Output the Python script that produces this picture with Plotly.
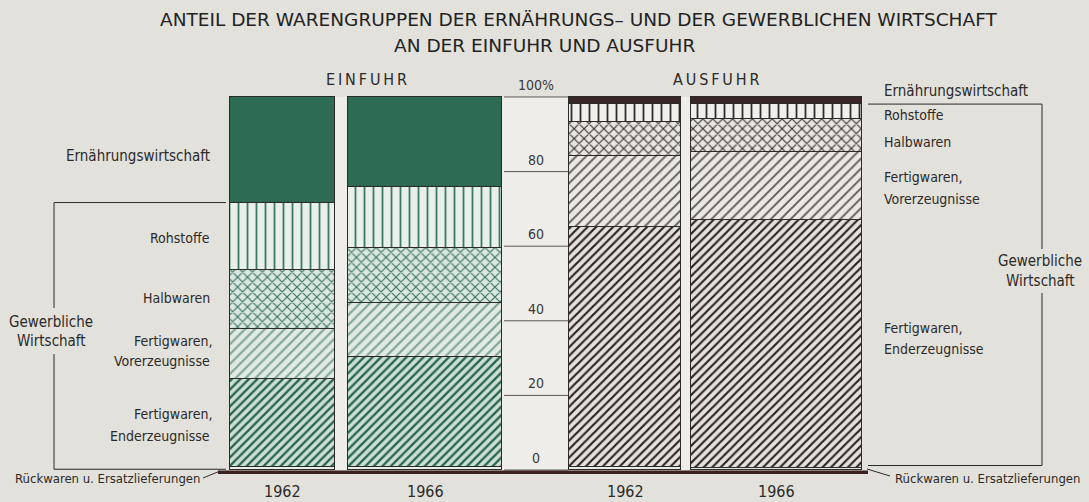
import plotly.graph_objects as go

# ---------------- data ----------------
groups = ["EINFUHR", "EINFUHR", "AUSFUHR", "AUSFUHR"]
years = ["1962", "1966", "1962", "1966"]
totals_bn_dm = [49.5, 72.7, 53.0, 80.6]          # bar widths proportional to totals
rueckwaren = [0.7, 0.7, 0.8, 0.6]
fertig_ender = [23.6, 29.5, 64.4, 66.4]
fertig_vor = [13.4, 14.5, 19.0, 18.3]
halbwaren = [15.9, 14.9, 9.2, 8.7]
rohstoffe = [18.1, 16.2, 4.8, 4.1]
ernaehrung = [28.3, 24.2, 1.8, 1.9]
tick_vals = [0, 20, 40, 60, 80, 100]
tick_text = ["0", "20", "40", "60", "80", "100%"]

# ---------------- layout helpers ----------------
W, H = 1089, 502
PX0, PX100 = 470, 97                 # pixel rows of 0 % and 100 %
k = (PX0 - PX100) / 100.0
y_lo, y_hi = -(H - PX0) / k, PX0 / k
def yp(py):
    return 1 - py / H

FONT = "DejaVu Sans Condensed, Liberation Sans Narrow, sans-serif"
TFONT = "DejaVu Sans, Liberation Sans, sans-serif"
INK = "#2b2a28"
BG = "#e3e1dc"

scale = 2.12
widths = [t * scale for t in totals_bn_dm]
lefts = [230, 230 + widths[0] + 13, 569, 569 + widths[2] + 10]
centers = [l + w / 2 for l, w in zip(lefts, widths)]

# styles: (shape, bg, fg, size, solidity) for EINFUHR / AUSFUHR
series = [
    ("Rückwaren u. Ersatzlieferungen", rueckwaren,
     ("", "#e9ede9", "#e9ede9", 6, 0.3), ("", "#ebe9e5", "#ebe9e5", 6, 0.3)),
    ("Fertigwaren, Enderzeugnisse", fertig_ender,
     ("/", "#cde0d6", "#2c6550", 6, 0.4), ("/", "#e4e1dd", "#2a2222", 6, 0.36)),
    ("Fertigwaren, Vorerzeugnisse", fertig_vor,
     ("/", "#e1eae4", "#7aa392", 7, 0.28), ("/", "#eae8e4", "#615957", 7, 0.27)),
    ("Halbwaren", halbwaren,
     ("x", "#dbe7e1", "#3a7360", 7, 0.3), ("x", "#e8e6e2", "#332b2b", 7, 0.28)),
    ("Rohstoffe", rohstoffe,
     ("|", "#e9efea", "#3d7a63", 9, 0.2), ("|", "#f0efec", "#332b2b", 9, 0.2)),
    ("Ernährungswirtschaft", ernaehrung,
     ("", "#2e6b55", "#2e6b55", 6, 0.3), ("", "#3a2626", "#3a2626", 6, 0.3)),
]

fig = go.Figure()
for name, vals, st_imp, st_exp in series:
    for grp, st in (("EINFUHR", st_imp), ("AUSFUHR", st_exp)):
        idx = [i for i, g in enumerate(groups) if g == grp]
        shape, bg, fg, size, sol = st
        fig.add_trace(go.Bar(
            x=[centers[i] for i in idx], y=[vals[i] for i in idx],
            width=[widths[i] for i in idx], name=f"{name} ({grp})",
            marker=dict(color=bg, line=dict(color=INK, width=1.3),
                        pattern=dict(shape=shape, bgcolor=bg, fgcolor=fg, fgopacity=1,
                                     size=size, solidity=sol)),
            hoverinfo="skip", showlegend=False,
        ))

shapes = []
# light backdrop behind the bars
shapes.append(dict(type="rect", xref="x", yref="y", x0=lefts[0], x1=lefts[3] + widths[3],
                   y0=0, y1=100, fillcolor="#eeedea", line=dict(width=0), layer="below"))
# centre scale lines
for v in tick_vals:
    shapes.append(dict(type="line", xref="x", yref="y", x0=lefts[1] + widths[1] + 2, x1=lefts[2] - 1,
                       y0=v, y1=v, line=dict(color="#5a5652", width=1)))
# baseline
shapes.append(dict(type="line", xref="x", yref="y", x0=218, x1=868, y0=-0.6, y1=-0.6,
                   line=dict(color="#3b2220", width=3.5)))
# left bracket (Gewerbliche Wirtschaft, Einfuhr)
top_l = 100 - ernaehrung[0]
shapes += [
    dict(type="line", xref="x", yref="y", x0=54, x1=226, y0=top_l, y1=top_l, line=dict(color=INK, width=1)),
    dict(type="line", xref="x", yref="y", x0=54, x1=226, y0=0.2, y1=0.2, line=dict(color=INK, width=1)),
    dict(type="line", xref="x", yref="paper", x0=54, x1=54, y0=yp(PX0 - top_l * k), y1=yp(308), line=dict(color=INK, width=1)),
    dict(type="line", xref="x", yref="paper", x0=54, x1=54, y0=yp(354), y1=yp(PX0 - 0.2 * k), line=dict(color=INK, width=1)),
    dict(type="line", xref="x", yref="paper", x0=203, x1=220, y0=yp(478), y1=yp(471), line=dict(color=INK, width=1)),
]
# right bracket (Gewerbliche Wirtschaft, Ausfuhr)
top_r = 100 - ernaehrung[3]
bot_r = rueckwaren[3] + 0.6
shapes += [
    dict(type="line", xref="x", yref="y", x0=868, x1=1042, y0=top_r, y1=top_r, line=dict(color=INK, width=1)),
    dict(type="line", xref="x", yref="y", x0=868, x1=1042, y0=bot_r, y1=bot_r, line=dict(color=INK, width=1)),
    dict(type="line", xref="x", yref="paper", x0=1042, x1=1042, y0=yp(PX0 - top_r * k), y1=yp(249), line=dict(color=INK, width=1)),
    dict(type="line", xref="x", yref="paper", x0=1042, x1=1042, y0=yp(293), y1=yp(PX0 - bot_r * k), line=dict(color=INK, width=1)),
    dict(type="line", xref="x", yref="paper", x0=867, x1=890, y0=yp(469), y1=yp(476), line=dict(color=INK, width=1)),
]

ann = []
def txt(x, py, t, size=14, anchor="center", color=INK, family=FONT):
    ann.append(dict(x=x, y=yp(py), xref="x", yref="paper", text=t, showarrow=False,
                    xanchor=anchor, yanchor="middle", font=dict(family=family, size=size, color=color)))

txt(578, 20, "ANTEIL DER WARENGRUPPEN DER ERNÄHRUNGS– UND DER GEWERBLICHEN WIRTSCHAFT", 18.5, color="#222", family=TFONT)
txt(544, 45, "AN DER EINFUHR UND AUSFUHR", 18.5, color="#222", family=TFONT)
txt((lefts[0] + lefts[1] + widths[1]) / 2, 80, "E\u2009I\u2009N\u2009F\u2009U\u2009H\u2009R", 16)
txt((lefts[2] + lefts[3] + widths[3]) / 2, 80, "A\u2009U\u2009S\u2009F\u2009U\u2009H\u2009R", 16)

# centre scale labels
cx = (lefts[1] + widths[1] + lefts[2]) / 2
for v, t in zip(tick_vals, tick_text):
    ann.append(dict(x=cx, y=v, xref="x", yref="y", text=t, showarrow=False, yanchor="bottom",
                    yshift=2, font=dict(family=FONT, size=14, color="#3a3835")))

# year labels
for c, yr in zip(centers, years):
    txt(c, 491, yr, 16)

# left labels
txt(212, 156, "Ernährungswirtschaft", 15, "right")
txt(212, 238, "Rohstoffe", 14, "right")
txt(212, 298, "Halbwaren", 14, "right")
txt(214, 341, "Fertigwaren,", 14, "right")
txt(212, 361, "Vorerzeugnisse", 14, "right")
txt(214, 414, "Fertigwaren,", 14, "right")
txt(212, 436, "Enderzeugnisse", 14, "right")
txt(51, 322, "Gewerbliche", 15)
txt(51, 341, "Wirtschaft", 15)
txt(202, 478, "Rückwaren u. Ersatzlieferungen", 13, "right")

# right labels
txt(882, 91, "Ernährungswirtschaft", 15, "left")
txt(882, 115, "Rohstoffe", 14, "left")
txt(882, 142, "Halbwaren", 14, "left")
txt(882, 177, "Fertigwaren,", 14, "left")
txt(882, 199, "Vorerzeugnisse", 14, "left")
txt(1040, 261, "Gewerbliche", 15)
txt(1040, 281, "Wirtschaft", 15)
txt(882, 328, "Fertigwaren,", 14, "left")
txt(882, 349, "Enderzeugnisse", 14, "left")
txt(893, 478, "Rückwaren u. Ersatzlieferungen", 13, "left")

fig.update_layout(
    width=W, height=H, margin=dict(l=0, r=0, t=0, b=0),
    paper_bgcolor=BG, plot_bgcolor=BG, barmode="stack", bargap=0,
    xaxis=dict(range=[0, W], visible=False, fixedrange=True),
    yaxis=dict(range=[y_lo, y_hi], visible=False, fixedrange=True),
    shapes=shapes, annotations=ann, showlegend=False,
)

fig.write_html("out.html", config={"displayModeBar": False},
               post_script="document.body.style.margin='0';")
